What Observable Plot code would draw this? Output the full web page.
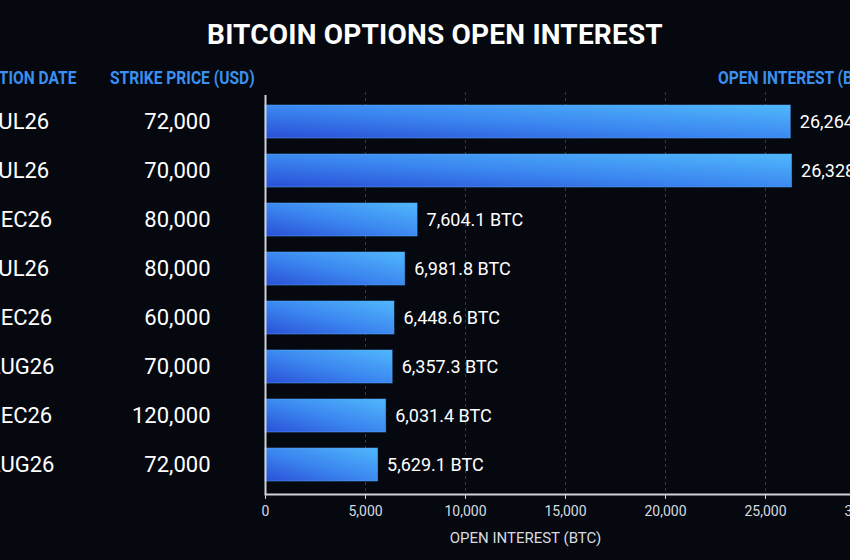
<!DOCTYPE html>
<html>
<head>
<meta charset="utf-8">
<script src="https://cdn.jsdelivr.net/npm/d3@7"></script>
<script src="https://cdn.jsdelivr.net/npm/@observablehq/plot@0.6"></script>
<style>
  html, body { margin: 0; padding: 0; background: #05080f; width: 850px; height: 560px; overflow: hidden; }
  #wrap { position: absolute; left: -45px; top: 0; width: 960px; height: 560px; }
  h1 { position: absolute; left: 0; top: 0; width: 960px; margin: 0; text-align: center;
       font: 700 28px Roboto, sans-serif; color: #fff; line-height: 70px; letter-spacing: 0.2px; }
  .hdr { position: absolute; top: 68px; font: 700 19px Roboto, sans-serif; color: #3a8ff0;
         white-space: nowrap; line-height: 20px; transform: scaleX(0.82); transform-origin: left center; }
  #chart { position: absolute; left: 0; top: 60px; }
</style>
</head>
<body>
<div id="wrap">
  <h1>BITCOIN OPTIONS OPEN INTEREST</h1>
  <div class="hdr" style="left:-9px">EXPIRATION DATE</div>
  <div class="hdr" style="left:155px">STRIKE PRICE (USD)</div>
  <div class="hdr" style="left:763px">OPEN INTEREST (BTC)</div>
  <div id="chart"></div>
</div>
<script>
// Largest open-interest positions, one row per contract
const expiries = ["31JUL26", "31JUL26", "25DEC26", "31JUL26", "25DEC26", "28AUG26", "25DEC26", "28AUG26"];
const strikes = [72000, 70000, 80000, 80000, 60000, 70000, 120000, 72000];
const openInterest = [26264.7, 26328.2, 7604.1, 6981.8, 6448.6, 6357.3, 6031.4, 5629.1];
const xTicks = [0, 5000, 10000, 15000, 20000, 25000, 30000];

const rows = expiries.map((expiry, i) => ({
  key: i,
  expiry,
  strike: strikes[i],
  oi: openInterest[i]
}));

const fmtStrike = d3.format(",");
const fmtOi = d3.format(",.1f");

const chart = Plot.plot({
  width: 960,
  height: 500,
  marginLeft: 310,
  marginRight: 50,
  marginTop: 32,
  marginBottom: 66,
  style: { background: "transparent", color: "#d8dbe0", fontFamily: "Roboto, sans-serif", fontSize: "14px" },
  x: { domain: [0, 30000], axis: null },
  y: { domain: rows.map(d => d.key), paddingInner: 0.33, paddingOuter: 0.25, axis: null },
  marks: [
    Plot.ruleX(xTicks.slice(1), { stroke: "#343a46", strokeDasharray: "3,3", strokeWidth: 1 }),
    Plot.barX(rows, {
      x: "oi", y: "key",
      fill: "url(#oiGradient)",
      stroke: "#5aaaff", strokeOpacity: 0.5, strokeWidth: 1
    }),
    Plot.ruleX([0], { stroke: "#cfd3d8", strokeWidth: 2, insetTop: 3 }),
    Plot.frame({ anchor: "bottom", stroke: "#cfd3d8", strokeWidth: 2 }),
    Plot.axisX({
      ticks: xTicks, tickFormat: fmtStrike, tickSize: 5, tickPadding: 7,
      stroke: "#cfd3d8", fill: "#d8dbe0", fontSize: 14, label: null
    }),
    Plot.text(["OPEN INTEREST (BTC)"], {
      frameAnchor: "bottom", dx: -40, dy: 44, lineAnchor: "middle",
      fill: "#d8dbe0", fontSize: 15
    }),
    Plot.text(rows, {
      y: "key", text: "expiry", frameAnchor: "left", dx: -304,
      textAnchor: "start", fill: "#ffffff", fontSize: 22
    }),
    Plot.text(rows, {
      y: "key", text: d => fmtStrike(d.strike), frameAnchor: "left", dx: -55,
      textAnchor: "end", fill: "#ffffff", fontSize: 22
    }),
    Plot.text(rows, {
      x: "oi", y: "key", text: d => fmtOi(d.oi) + " BTC", dx: 9,
      textAnchor: "start", fill: "#ffffff", fontSize: 18
    })
  ]
});

// Diagonal blue gradient shared by every bar: darker bottom-left, brighter top-right
const ns = "http://www.w3.org/2000/svg";
const defs = document.createElementNS(ns, "defs");
const grad = document.createElementNS(ns, "linearGradient");
grad.setAttribute("id", "oiGradient");
grad.setAttribute("x1", "0"); grad.setAttribute("y1", "1");
grad.setAttribute("x2", "1"); grad.setAttribute("y2", "0");
[["0%", "#2a4fd6"], ["45%", "#3a84ef"], ["100%", "#50b8fc"]].forEach(([offset, color]) => {
  const stop = document.createElementNS(ns, "stop");
  stop.setAttribute("offset", offset);
  stop.setAttribute("stop-color", color);
  grad.appendChild(stop);
});
defs.appendChild(grad);
chart.insertBefore(defs, chart.firstChild);

document.getElementById("chart").appendChild(chart);
</script>
</body>
</html>
